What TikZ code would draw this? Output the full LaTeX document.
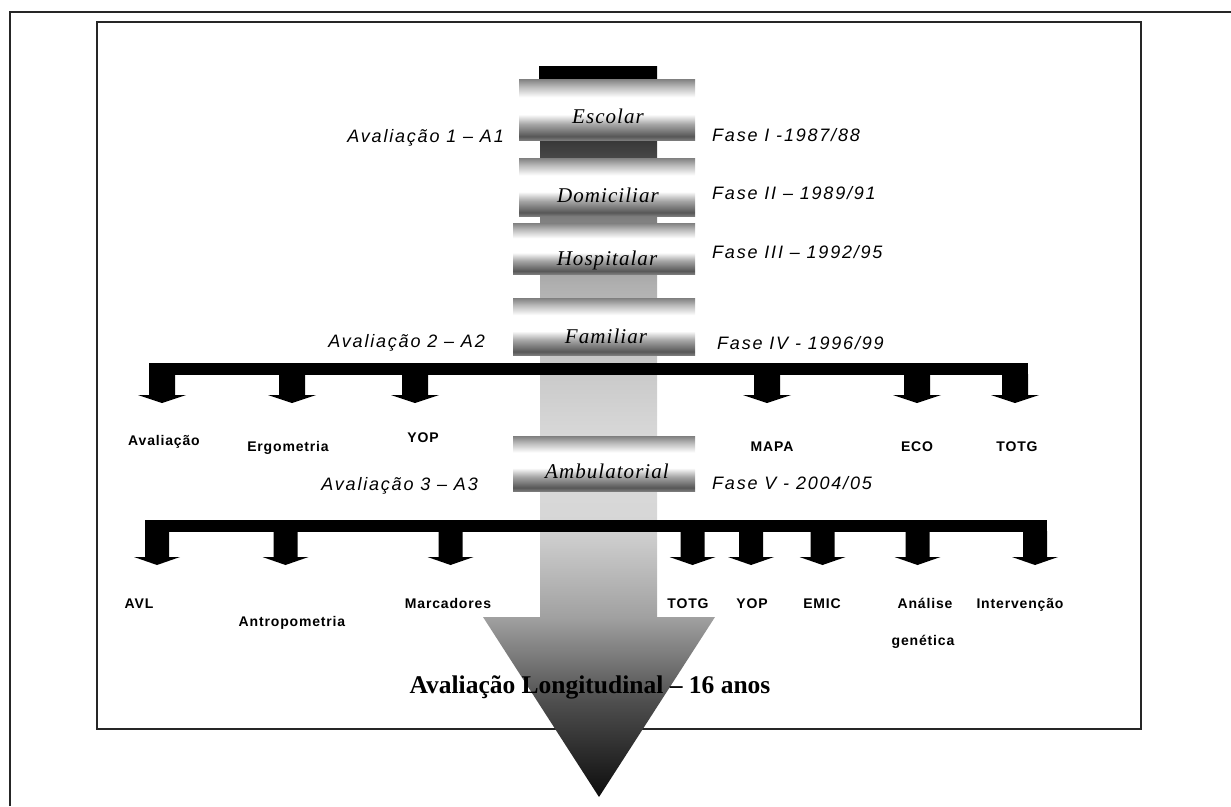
\documentclass[tikz,border=0pt]{standalone}
\usepackage{fontspec}
\setmainfont{Liberation Serif}
\newfontfamily\lblfont[LetterSpace=10]{Liberation Sans}
\newfontfamily\boxfont[LetterSpace=5]{Liberation Serif}
\newfontfamily\smallfont[LetterSpace=6]{Liberation Sans}
\pgfdeclareverticalshading{cylshade}{100bp}{color(0bp)=(black!52); color(25bp)=(black!52); color(28bp)=(black!66); color(38bp)=(black!35); color(46bp)=(white); color(60bp)=(white); color(69bp)=(black!28); color(75bp)=(black!50); color(100bp)=(black!50)}
\pgfdeclareverticalshading{shaftshade}{100bp}{color(0bp)=(black!95); color(25bp)=(black!95); color(31.6bp)=(black!69); color(37.3bp)=(black!37); color(43.9bp)=(black!16); color(48.7bp)=(black!14); color(54.9bp)=(black!22); color(60bp)=(black!31); color(64.5bp)=(black!50); color(69.3bp)=(black!75); color(74bp)=(black); color(100bp)=(black)}
\tikzset{
  frameline/.style={draw=black!85, line width=2pt},
  cylbox/.style={rectangle, inner sep=0pt, shade, shading=cylshade},
  boxlbl/.style={inner sep=0pt, anchor=base, font=\boxfont\itshape\fontsize{21}{23}\selectfont},
  fasel/.style={inner sep=0pt, anchor=base west, font=\lblfont\itshape\fontsize{18}{20}\selectfont},
  aval/.style={inner sep=0pt, anchor=base east, font=\lblfont\itshape\fontsize{18}{20}\selectfont},
  itemlbl/.style={inner sep=0pt, anchor=base, font=\smallfont\bfseries\fontsize{14}{16}\selectfont},
  barfill/.style={fill=black},
}
\begin{document}
\begin{tikzpicture}[x=1pt,y=-1pt]
\useasboundingbox (0,0) rectangle (1231,806);
% frames
\draw[frameline] (10,806) -- (10,12) -- (1231,12);
\draw[frameline] (97,22) rectangle (1141,729);
% big arrow
\path[shade, shading=shaftshade] (540,66) -- (657,66) -- (657,617) -- (715,617) -- (599,797) -- (483,617) -- (540,617) -- cycle;
\fill[black] (539,66) rectangle (656,79);
% phase boxes
\node[cylbox, minimum width=176pt, minimum height=61pt] (escolar) at (607,109.5) {};
\node[cylbox, minimum width=176pt, minimum height=58pt] (domiciliar) at (607,187) {};
\node[cylbox, minimum width=182pt, minimum height=51pt] (hospitalar) at (604,248.5) {};
\node[cylbox, minimum width=182pt, minimum height=57pt] (familiar) at (604,326.5) {};
\node[cylbox, minimum width=182pt, minimum height=55pt] (ambulatorial) at (604,463.5) {};
\node[boxlbl] (lescolar) at (608,123) {Escolar};
\node[boxlbl] (ldomiciliar) at (608,202) {Domiciliar};
\node[boxlbl] (lhospitalar) at (607,265) {Hospitalar};
\node[boxlbl] (lfamiliar) at (606,343) {Familiar};
\node[boxlbl] (lambulatorial) at (607,478) {Ambulatorial};
% side labels
\node[aval] (a1) at (504,142) {Avaliação 1 – A1};
\node[aval] (a2) at (485,347) {Avaliação 2 – A2};
\node[aval] (a3) at (478,490) {Avaliação 3 – A3};
\node[fasel] (f1) at (712,141) {Fase I -1987/88};
\node[fasel] (f2) at (712,199) {Fase II – 1989/91};
\node[fasel] (f3) at (712,258) {Fase III – 1992/95};
\node[fasel] (f4) at (717,349) {Fase IV - 1996/99};
\node[fasel] (f5) at (712,489) {Fase V - 2004/05};
% bar 1
\fill[barfill] (149,363) rectangle (1028,375);
\foreach \cx in {162,292,415,767,917,1015}
  \fill[barfill] ({\cx-13},374) -- ({\cx+13},374) -- ({\cx+13},395) -- ({\cx+24},395) -- (\cx,403) -- ({\cx-24},395) -- ({\cx-13},395) -- cycle;
% bar 2
\fill[barfill] (145,520) rectangle (1047,532);
\foreach \cx in {157,285.5,450.5,692.5,751,822.5,917.5,1035}
  \fill[barfill] ({\cx-12},531) -- ({\cx+12},531) -- ({\cx+12},557) -- ({\cx+23},557) -- (\cx,565) -- ({\cx-23},557) -- ({\cx-12},557) -- cycle;
% item labels, row 1
\node[itemlbl] (iaval) at (164,445) {Avaliação};
\node[itemlbl] (iergo) at (288,451) {Ergometria};
\node[itemlbl] (iyop1) at (423,442) {YOP};
\node[itemlbl] (imapa) at (772,451) {MAPA};
\node[itemlbl] (ieco) at (917,451) {ECO};
\node[itemlbl] (itotg1) at (1017,451) {TOTG};
% item labels, row 2
\node[itemlbl] (iavl) at (139,608) {AVL};
\node[itemlbl] (iantro) at (292,626) {Antropometria};
\node[itemlbl] (imarc) at (448,608) {Marcadores};
\node[itemlbl] (itotg2) at (688,608) {TOTG};
\node[itemlbl] (iyop2) at (752,608) {YOP};
\node[itemlbl] (iemic) at (822,608) {EMIC};
\node[itemlbl] (ianal) at (925,608) {Análise};
\node[itemlbl] (igen) at (923,645) {genética};
\node[itemlbl] (iinter) at (1020,608) {Intervenção};
% bottom title
\node[inner sep=0pt, anchor=base, font=\bfseries\fontsize{25.5}{28}\selectfont] (title) at (590,693) {Avaliação Longitudinal – 16 anos};
\end{tikzpicture}
\end{document}
